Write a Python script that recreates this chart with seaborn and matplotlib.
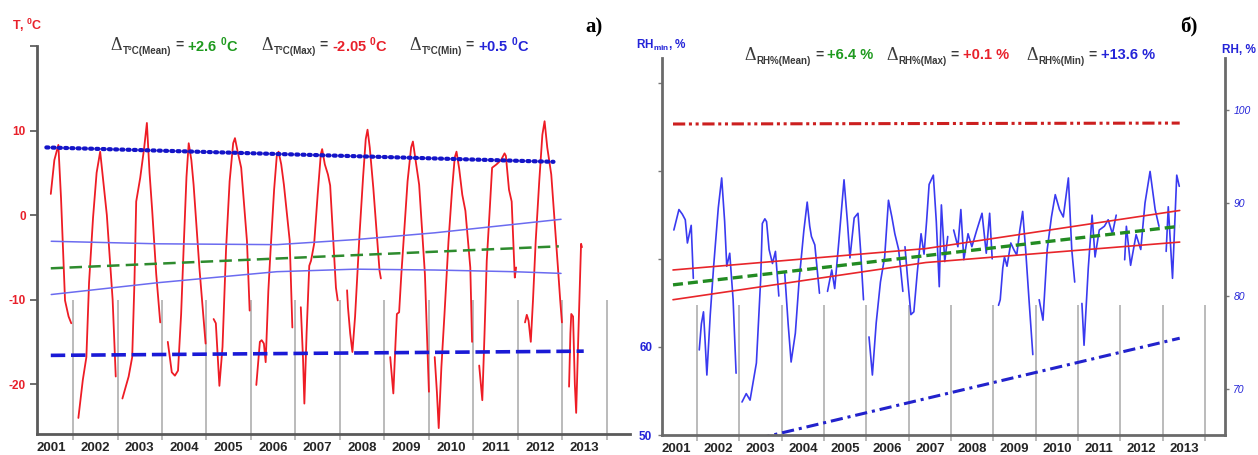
import numpy as np
import pandas as pd
import matplotlib
matplotlib.use('Agg')
import matplotlib.pyplot as plt
import seaborn as sns

sns.set_style('white')
plt.rcParams['font.family'] = ['Liberation Sans Narrow', 'Liberation Sans', 'DejaVu Sans']
plt.rcParams['mathtext.fontset'] = 'custom'
plt.rcParams['mathtext.rm'] = 'Liberation Sans:bold'
plt.rcParams['mathtext.bf'] = 'Liberation Sans:bold'

nan = np.nan
years = list(range(2001, 2014))

# ---- panel a) air temperature, smoothed monthly series (gaps = nan)
t_year = [2001.50, 2001.58, 2001.67, 2001.73, 2001.82, 2001.90, 2001.96, nan,
          2002.12, 2002.22, 2002.30, 2002.36, 2002.45, 2002.53, 2002.61, 2002.68, 2002.76, 2002.89, 2002.96, nan,
          2003.11, 2003.25, 2003.33, 2003.38, 2003.42, 2003.51, 2003.60, 2003.66, 2003.72, 2003.78, 2003.87, 2003.96, nan,
          2004.13, 2004.22, 2004.29, 2004.36, 2004.43, 2004.49, 2004.55, 2004.60, 2004.66, 2004.71, 2004.84, 2004.98, nan,
          2005.16, 2005.21, 2005.29, 2005.36, 2005.44, 2005.52, 2005.60, 2005.64, 2005.70, 2005.78, 2005.91, 2005.97, nan,
          2006.12, 2006.20, 2006.24, 2006.29, 2006.33, 2006.39, 2006.44, 2006.52, 2006.58, 2006.62, 2006.68, 2006.74, 2006.87, 2006.93, nan,
          2007.12, 2007.17, 2007.20, 2007.25, 2007.31, 2007.35, 2007.42, 2007.50, 2007.57, 2007.60, 2007.66, 2007.73, 2007.78, 2007.85, 2007.91, 2007.95, nan,
          2008.16, 2008.18, 2008.23, 2008.28, 2008.34, 2008.44, 2008.52, 2008.58, 2008.62, 2008.67, 2008.75, 2008.89, 2008.92, nan,
          2009.13, 2009.20, 2009.25, 2009.28, 2009.33, 2009.38, 2009.44, 2009.52, 2009.60, 2009.64, 2009.70, 2009.78, 2009.91, 2010.00, nan,
          2010.13, 2010.18, 2010.22, 2010.28, 2010.35, 2010.44, 2010.52, 2010.58, 2010.62, 2010.68, 2010.75, 2010.82, 2010.93, 2010.97, nan,
          2011.13, 2011.20, 2011.25, 2011.30, 2011.36, 2011.42, 2011.52, 2011.62, 2011.70, 2011.73, 2011.80, 2011.86, 2011.93, 2011.96, nan,
          2012.16, 2012.20, 2012.24, 2012.29, 2012.34, 2012.40, 2012.48, 2012.55, 2012.60, 2012.66, 2012.75, 2012.90, 2012.95, 2012.99, nan,
          2013.15, 2013.18, 2013.20, 2013.24, 2013.28, 2013.31, 2013.36, 2013.42, 2013.44]
t_val = [2.5, 6.5, 8.3, 2.0, -10.1, -12.0, -12.8, nan,
         -24.0, -19.5, -16.8, -8.0, -0.3, 5.0, 7.5, 4.0, 0.0, -10.0, -19.1, nan,
         -21.7, -19.1, -16.8, -8.0, 1.6, 4.4, 8.0, 10.9, 5.0, 0.5, -7.0, -12.7, nan,
         -15.0, -18.6, -19.0, -18.4, -11.7, -3.4, 4.5, 8.5, 6.5, 3.6, -6.2, -15.2, nan,
         -12.3, -12.8, -20.2, -15.6, -4.0, 4.0, 8.5, 9.1, 7.5, 5.6, -3.1, -11.3, nan,
         -20.1, -15.0, -14.8, -15.2, -17.4, -9.0, -4.2, 3.0, 7.0, 7.5, 6.0, 3.6, -3.0, -13.3, nan,
         -10.9, -17.0, -22.3, -14.0, -6.0, -5.4, -3.4, 2.5, 7.2, 7.8, 6.0, 4.8, 3.5, -3.0, -8.6, -10.1, nan,
         -8.9, -10.9, -14.0, -16.2, -12.0, -2.3, 4.5, 9.0, 10.1, 8.0, 3.2, -6.6, -7.5, nan,
         -16.8, -21.1, -15.0, -11.7, -11.5, -7.0, -2.3, 4.0, 8.0, 8.7, 6.5, 3.6, -7.0, -20.9, nan,
         -16.8, -21.0, -25.2, -18.0, -11.7, -3.1, 3.0, 6.8, 7.5, 5.5, 2.4, 0.5, -6.2, -15.0, nan,
         -17.8, -21.9, -14.0, -5.4, 0.0, 5.6, 6.0, 6.5, 7.3, 7.0, 3.0, 1.6, -7.4, -6.2, nan,
         -12.7, -11.8, -12.5, -15.0, -10.0, -3.1, 4.0, 9.5, 11.1, 8.0, 4.8, -6.2, -10.0, -12.7, nan,
         -20.3, -14.0, -11.7, -12.0, -20.0, -23.4, -14.0, -3.4, -3.8]

t_max_x = [2001.40, 2012.80]
t_max_trend = [8.0, 6.3]
t_mean_x = [2001.50, 2012.92]
t_mean_trend = [-6.3, -3.7]
t_min_x = [2001.50, 2013.48]
t_min_trend = [-16.6, -16.1]
t_band_x = [2001.51, 2003.91, 2006.58, 2008.35, 2010.13, 2011.91, 2012.97]
t_band_hi = [-3.1, -3.4, -3.5, -2.9, -2.1, -1.1, -0.5]
t_band_lo = [-9.4, -8.0, -6.7, -6.4, -6.5, -6.7, -6.9]

# ---- panel б) relative humidity
rh_year = [2001.45, 2001.57, 2001.65, 2001.72, 2001.77, 2001.86, 2001.91, nan,
           2002.05, 2002.10, 2002.15, 2002.19, 2002.23, 2002.31, 2002.39, 2002.50, 2002.58, 2002.65, 2002.70, 2002.77, 2002.85, 2002.92, nan,
           2003.06, 2003.16, 2003.25, 2003.40, 2003.50, 2003.54, 2003.60, 2003.64, 2003.70, 2003.78, 2003.85, 2003.93, nan,
           2004.07, 2004.15, 2004.22, 2004.32, 2004.41, 2004.52, 2004.60, 2004.66, 2004.70, 2004.78, 2004.89, nan,
           2005.08, 2005.18, 2005.25, 2005.35, 2005.47, 2005.55, 2005.61, 2005.71, 2005.80, 2005.86, 2005.93, nan,
           2006.06, 2006.14, 2006.23, 2006.33, 2006.43, 2006.52, 2006.60, 2006.67, 2006.76, 2006.86, nan,
           2006.91, 2006.97, 2007.05, 2007.12, 2007.20, 2007.29, 2007.36, 2007.42, 2007.48, 2007.58, 2007.65, 2007.72, 2007.77, 2007.85, 2007.92, nan,
           2008.06, 2008.16, 2008.23, 2008.30, 2008.40, 2008.49, 2008.60, 2008.73, 2008.83, 2008.91, 2008.97, nan,
           2009.12, 2009.16, 2009.22, 2009.26, 2009.32, 2009.41, 2009.48, 2009.55, 2009.62, 2009.69, 2009.76, 2009.84, 2009.93, nan,
           2010.08, 2010.17, 2010.27, 2010.37, 2010.46, 2010.56, 2010.65, 2010.77, 2010.85, 2010.92, nan,
           2011.09, 2011.14, 2011.24, 2011.33, 2011.40, 2011.50, 2011.62, 2011.71, 2011.81, 2011.90, nan,
           2012.10, 2012.14, 2012.24, 2012.37, 2012.48, 2012.58, 2012.70, 2012.82, 2012.91, nan,
           2013.08, 2013.13, 2013.23, 2013.33, 2013.39]
rh_val = [87.1, 89.3, 88.8, 88.2, 85.7, 87.6, 81.9, nan,
          74.2, 77.0, 78.3, 75.0, 71.5, 78.0, 83.2, 89.5, 92.7, 88.0, 83.2, 84.6, 79.6, 71.7, nan,
          68.6, 69.5, 68.8, 72.8, 81.7, 87.8, 88.3, 88.0, 85.0, 83.5, 84.8, 80.0, nan,
          82.4, 77.0, 72.9, 76.0, 81.7, 87.0, 90.1, 87.5, 86.4, 85.5, 80.3, nan,
          80.5, 82.8, 80.8, 86.0, 92.5, 88.0, 84.1, 88.4, 88.9, 85.0, 79.6, nan,
          75.6, 71.5, 77.1, 81.5, 84.2, 90.3, 88.5, 86.7, 85.0, 80.5, nan,
          85.3, 82.0, 78.0, 78.3, 82.5, 86.7, 84.5, 88.0, 92.0, 93.0, 88.0, 81.0, 89.8, 83.7, 86.4, nan,
          87.1, 85.3, 89.3, 83.9, 86.7, 85.3, 87.0, 88.9, 84.6, 88.9, 84.0, nan,
          79.0, 79.6, 83.0, 84.2, 83.2, 85.7, 85.0, 84.4, 87.0, 89.1, 85.0, 79.6, 73.7, nan,
          79.6, 77.4, 85.0, 88.5, 90.9, 89.3, 88.5, 92.7, 85.0, 81.5, nan,
          79.2, 74.7, 83.0, 88.7, 84.2, 87.1, 87.5, 88.2, 86.7, 88.7, nan,
          83.9, 87.5, 83.3, 86.6, 85.0, 90.0, 93.4, 89.3, 87.5, nan,
          84.8, 89.6, 81.9, 93.0, 91.8]

rh_trend_x = [2001.43, 2013.40]
rh_max_trend = [98.5, 98.6]
rh_mean_trend = [81.2, 87.5]
rh_band_x = [2001.43, 2007.40, 2013.40]
rh_band_hi = [82.8, 85.1, 89.2]
rh_band_lo = [79.6, 83.6, 85.8]
rh_min_trend = [47.3, 61.0]   # left axis (RHmin)

W, H = 1258, 455
RED, BLUE, GREEN, GREY = '#e8202a', '#2424d8', '#1f9a1f', '#3a3a3a'


def seg_frame(xs, ys):
    df = pd.DataFrame({'x': xs, 'y': ys})
    df['seg'] = df['y'].isna().cumsum()
    return df.dropna()


def line(ax, xs, ys, **kw):
    sns.lineplot(data=seg_frame(xs, ys), x='x', y='y', units='seg', estimator=None,
                 sort=False, ax=ax, **kw)


def year_axis(ax):
    ax.vlines(np.arange(2002, 2015), -0.016, 0.345, transform=ax.get_xaxis_transform(),
              color='#a8a8a8', lw=1.1, clip_on=False, zorder=0)
    ax.set_xticks(np.array(years) + 0.5)
    ax.set_xticklabels(years, fontweight='bold', fontsize=9.5)
    ax.tick_params(axis='x', length=0, pad=6)
    ax.set_xlabel('')
    ax.set_ylabel('')


def ftext(x, y, s, **kw):
    return fig.text(x / W, 1 - y / H, s, va='center', **kw)


def right_edge(t):
    bb = t.get_window_extent(renderer=fig.canvas.get_renderer())
    return bb.x1


def delta_label(xd, y, sub, value, color):
    # pieces laid out left to right, each after the previous one
    d = ftext(xd, y, 'Δ', family='Liberation Serif', fontsize=13, color=GREY)
    s = ftext(right_edge(d) + 1, y + 6, sub, fontsize=7, fontweight='bold', color=GREY)
    e = ftext(right_edge(s) + 4, y, '=', fontsize=10, fontweight='bold', color=GREY)
    ftext(right_edge(e) + 4, y, value, fontsize=10.5, fontweight='bold', color=color)


fig = plt.figure(figsize=(W / 100, H / 100), dpi=100)

# ---------------- panel a)
ax1 = fig.add_axes([37 / W, 1 - 434 / H, 593 / W, 388 / H])
line(ax1, t_year, t_val, color='#ee1c25', lw=1.3)
line(ax1, t_band_x, t_band_hi, color='#6b6bf0', lw=1.1)
line(ax1, t_band_x, t_band_lo, color='#6b6bf0', lw=1.1)
line(ax1, t_max_x, t_max_trend, color='#1414c8', lw=3, linestyle=(0, (0.5, 1.0)),
     dash_capstyle='round')
line(ax1, t_mean_x, t_mean_trend, color='#2e8b2e', lw=1.8, linestyle=(0, (5, 2.5)))
line(ax1, t_min_x, t_min_trend, color='#1a1ad6', lw=2.6, linestyle=(0, (4, 1.6)))
ax1.set_xlim(2001.19, 2014.52)
ax1.set_ylim(-25.9, 20)
year_axis(ax1)
ax1.set_yticks([-20, -10, 0, 10, 20])
ax1.set_yticklabels(['-20', '-10', '0', '10', ''], color=RED, fontweight='bold', fontsize=8.5)
ax1.tick_params(axis='y', length=5, width=1.2, color='#555555', pad=3, left=True)
for s in ['top', 'right']:
    ax1.spines[s].set_visible(False)
for s in ['left', 'bottom']:
    ax1.spines[s].set_color('#5a5a5a')
    ax1.spines[s].set_linewidth(2)

ftext(12, 25, 'T, $^0$C', color=RED, fontsize=9, fontweight='bold')
ftext(585, 27, 'a)', family='Liberation Serif', fontsize=15, fontweight='bold', color='black')
delta_label(110, 45, 'T°C(Mean)', '+2.6 $^0$C', GREEN)
delta_label(261, 45, 'T°C(Max)', '-2.05 $^0$C', RED)
delta_label(409, 45, 'T°C(Min)', '+0.5 $^0$C', BLUE)

# ---------------- panel б)
axL = fig.add_axes([662 / W, 1 - 435 / H, 563 / W, 377 / H])
axR = axL.twinx()
line(axR, rh_year, rh_val, color='#3a3af0', lw=1.2)
line(axR, rh_band_x, rh_band_hi, color='#e8252a', lw=1.2)
line(axR, rh_band_x, rh_band_lo, color='#e8252a', lw=1.2)
line(axR, rh_trend_x, rh_mean_trend, color='#228b22', lw=2.4, linestyle=(0, (3, 1.5)))
line(axR, rh_trend_x, rh_max_trend, color='#cc1f1f', lw=2.2,
     linestyle=(0, (4, 1.2, 1, 1.2, 1, 1.2)))
line(axL, rh_trend_x, rh_min_trend, color='#2222cc', lw=2.2, linestyle=(0, (4, 1.6, 1, 1.6)))
axL.set_xlim(2001.17, 2014.47)
axL.set_ylim(50, 92.84)
axR.set_ylim(65.05, 105.6)
year_axis(axL)
axR.set_ylabel('')
axL.set_yticks([50, 60, 70, 80, 90])
axL.set_yticklabels(['50', '60', '', '', ''], color=BLUE, fontweight='bold', fontsize=8.5)
axL.tick_params(axis='y', length=3, width=1, color='#777777', pad=4, left=True)
axR.set_yticks([70, 80, 90, 100])
axR.set_yticklabels(['70', '80', '90', '100'], color=BLUE, style='italic', fontsize=7.5)
axR.tick_params(axis='y', length=3, width=1, color='#777777', pad=3, right=True)
for a in (axL, axR):
    a.spines['top'].set_visible(False)
axL.spines['right'].set_visible(False)
axR.spines['left'].set_visible(False)
axR.spines['bottom'].set_visible(False)
for a, s in [(axL, 'left'), (axL, 'bottom'), (axR, 'right')]:
    a.spines[s].set_color('#6a6a6a')
    a.spines[s].set_linewidth(2)

ftext(636, 45, r'RH$_{\mathrm{min}}$, %', color=BLUE, fontsize=8.5, fontweight='bold')
ftext(1222, 50, 'RH, %', color=BLUE, fontsize=8.5, fontweight='bold')
ftext(1180, 27, 'б)', family='Liberation Serif', fontsize=15, fontweight='bold', color='black')
delta_label(744, 55, 'RH%(Mean)', '+6.4 %', GREEN)
delta_label(886, 55, 'RH%(Max)', '+0.1 %', RED)
delta_label(1026, 55, 'RH%(Min)', '+13.6 %', BLUE)

fig.savefig('out.png', dpi=100)
